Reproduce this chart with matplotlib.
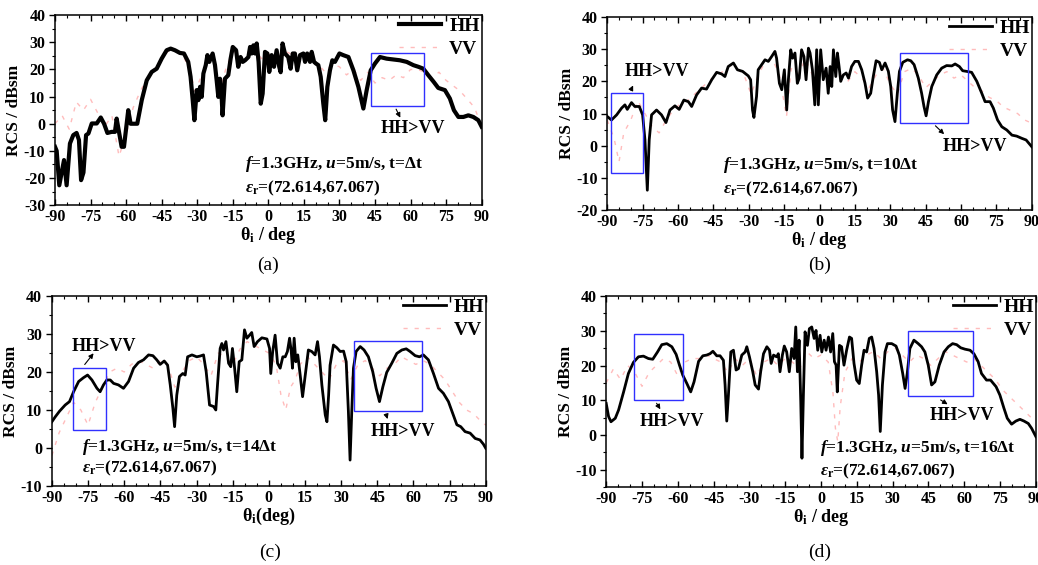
import numpy as np
import matplotlib
matplotlib.use('Agg')
import matplotlib.pyplot as plt
from matplotlib.patches import Rectangle
from matplotlib.ticker import MultipleLocator

plt.rcParams['font.family'] = 'Liberation Serif'
plt.rcParams['font.weight'] = 'bold'
plt.rcParams['mathtext.fontset'] = 'custom'
plt.rcParams['mathtext.rm'] = 'Liberation Serif:bold'
plt.rcParams['mathtext.it'] = 'Liberation Serif:bold:italic'
plt.rcParams['mathtext.bf'] = 'Liberation Serif:bold'
plt.rcParams['axes.unicode_minus'] = False

# (theta_i in deg, RCS in dBsm)
hh_a = [(-90, -8.5), (-89.3, -10), (-88.2, -22.7), (-87.2, -18), (-86.2, -13.4), (-85.1, -22.7),
        (-83.7, -7.3), (-82.3, -4.2), (-80.9, -3.4), (-79.9, -6), (-79, -20.8), (-78, -18),
        (-76.9, -4.2), (-75.9, -3.6), (-74.5, 0.1), (-72.4, 0.1), (-70.7, 2.3), (-69.3, 0),
        (-67.9, -3.4), (-66.1, -3), (-64.7, -3), (-64, 1.9), (-63, -3), (-61.9, -8.5), (-60.9, -8.5),
        (-59.1, 5), (-58.1, 0), (-57, 0), (-55.3, 0), (-53.4, 8.7), (-51.3, 16), (-49.2, 19.1),
        (-47.1, 20.3), (-45, 24), (-42.9, 27.1), (-41.2, 27.7), (-39.4, 27.1), (-37.3, 26.1),
        (-35.6, 25.9), (-33.8, 22.8), (-32.8, 17.3), (-31.9, 8.7), (-31.2, 1.3), (-30.2, 12.4),
        (-29.5, 8.7), (-28.8, 13.6), (-28.1, 9.9), (-27.4, 18.5), (-26.4, 21.6), (-25.7, 25.3),
        (-24.9, 22.8), (-23.5, 25.9), (-22.5, 21.6), (-21.8, 16), (-21.1, 9.9), (-20.4, 16.6),
        (-19.7, 9.9), (-19.3, 3.1), (-18.3, 16.6), (-16.9, 17.9), (-15.9, 24), (-15, 28.3),
        (-13.6, 27.1), (-12.7, 21), (-11.7, 24.6), (-10.8, 22.8), (-9.8, 23.4), (-8.4, 24.6),
        (-7.7, 28.3), (-7, 25.9), (-6.3, 28.9), (-5.6, 25.9), (-4.9, 29.6), (-4.1, 22.8),
        (-3.2, 7.4), (-2.4, 11.1), (-1.4, 26.5), (-0.4, 25.9), (0.4, 19.1), (1.4, 25.3),
        (2.4, 21), (3.5, 27.1), (4.6, 21), (5.2, 19), (6, 29.6), (7, 25.9), (8.4, 24.6),
        (9.4, 20.3), (10.3, 25.9), (11.2, 25.9), (12.2, 19.7), (13.4, 25.3), (14.8, 25.9),
        (15.5, 22.8), (16.4, 25.9), (17.6, 22.8), (18.3, 26.5), (19.3, 22.8), (20.1, 22.2),
        (21.1, 21.6), (22.1, 17.3), (23.2, 7.4), (24, 1.3), (24.9, 13.6), (26, 19.7), (27, 23.4),
        (28.1, 22.8), (30, 25.9), (31.6, 25.3), (33.8, 24.6), (35.9, 19.7), (38, 13.6),
        (40.1, 5.6), (41.5, 12.4), (43.2, 19.7), (45, 22.2), (47.1, 24.6), (49.9, 24),
        (52.7, 23.7), (55.5, 23.4), (58.4, 22.8), (61.2, 21.6), (63.3, 21), (65.4, 20.3),
        (67.5, 17.9), (69.8, 15.4), (71.7, 13.2), (74.5, 12.4), (76.6, 9.3), (78.3, 5),
        (80.2, 2.5), (82.3, 2.5), (84.4, 3.1), (86.5, 2.5), (88.6, 1.3), (90, -1.1)]

vv_a = [(-90, 0), (-87, 3), (-84, -2), (-81, 8), (-78, 5), (-75, 9), (-72, 4), (-69, -1),
        (-66, 3), (-63, -12), (-60, -4), (-57, 6), (-54, 12), (-51, 17), (-48, 20), (-45, 24),
        (-42, 27), (-39, 27), (-36, 25), (-33, 20), (-31, 12), (-29, 16), (-26, 23), (-23, 22),
        (-20, 14), (-18, 20), (-15, 27), (-12, 24), (-9, 26), (-6, 29), (-3, 24), (0, 26),
        (3, 22), (6, 27), (9, 26), (12, 23), (15, 25), (18, 24), (21, 22), (24, 19), (27, 22),
        (30, 21), (33, 18), (36, 20), (39, 16), (42, 19), (45, 15), (48, 17), (51, 16), (54, 18),
        (57, 17), (60, 20), (63, 20), (66, 19), (69, 17), (72, 19), (75, 16), (78, 14), (81, 12),
        (84, 9), (87, 6), (90, -1)]

hh_b = [(-90, 9.1), (-88.2, 8), (-86, 9.6), (-83.9, 11.7), (-82.5, 12.7), (-81.5, 11.3),
        (-79.7, 13.4), (-78.3, 12.2), (-76.4, 12.2), (-75, 9.6), (-74, 1.8), (-73, -13.8),
        (-72.2, 1.8), (-71.2, 9.6), (-69.1, 11.1), (-67, 9.6), (-65.1, 7.2), (-63.4, 11.1),
        (-61.3, 12.4), (-59.5, 11.3), (-57.5, 14.2), (-55.6, 13.7), (-54.2, 12.2), (-52.1, 15.8),
        (-50, 17.9), (-47.9, 17.6), (-45.7, 20.5), (-43.6, 22.8), (-41.5, 22.3), (-40.1, 21.5),
        (-38.7, 24.6), (-36.5, 25.7), (-34.8, 23.6), (-32.6, 23.1), (-30.2, 21.7), (-29.2, 20.5),
        (-28.4, 11.1), (-27.8, 8.8), (-26.7, 15.3), (-26, 23.6), (-24.5, 25.2), (-23.1, 26.7),
        (-21.7, 26.2), (-20.3, 27.7), (-18.9, 29.3), (-18.2, 27.2), (-17, 19.4), (-16, 17.4),
        (-14.9, 23.6), (-13.9, 11.1), (-13.2, 20.5), (-12.2, 29.8), (-11.4, 27.2), (-10.4, 28.8),
        (-9.4, 19.4), (-8.6, 21), (-7.6, 29.8), (-6.6, 27.7), (-5.7, 20.5), (-4.7, 30.3),
        (-4, 28.8), (-3, 23.6), (-2, 12.7), (-1.2, 29.8), (-0.5, 12.7), (0.5, 29.8), (1.6, 20.5),
        (2.8, 24.1), (3.7, 16.3), (4.5, 24.6), (5.2, 18.4), (5.9, 29.8), (6.9, 21.5), (7.6, 28.8),
        (8.3, 24.6), (9, 20), (10.1, 22), (11.3, 22.6), (12.3, 21), (13.6, 24.6), (15, 26.2),
        (16.5, 26.2), (17.9, 23.6), (19.3, 19.4), (20.4, 14.8), (21.7, 16.3), (22.8, 21.5),
        (24, 26.4), (25.4, 25.9), (26.4, 23.6), (27.8, 25.7), (29.2, 23.1), (30.2, 18.4),
        (31, 11.1), (32, 7.5), (33, 16.3), (33.9, 23.1), (35.3, 25.9), (37.3, 26.7), (38.7, 26.4),
        (40.1, 25.2), (41.9, 21), (43.3, 16.3), (44.3, 12.2), (45.2, 9.3), (46.2, 13.7),
        (47.6, 18.4), (49.7, 22), (51.8, 24.1), (53.9, 24.9), (56.1, 24.8), (57.5, 25.4),
        (59.3, 24.6), (60.7, 23.3), (62.4, 23.1), (64.5, 22.8), (66.7, 20), (68.8, 16.3),
        (70.2, 13.7), (72.3, 13.7), (73.7, 11.7), (75.5, 8), (77.3, 5.9), (79.4, 4.9), (81.6, 3.3),
        (83.6, 3), (85.8, 2.3), (87.6, 1.8), (90, -0.3)]

vv_b = [(-90, 8), (-87, 2), (-85, -5), (-83, 4), (-80, 8), (-77, 14), (-74, 10), (-71, 6),
        (-68, 4), (-65, 8), (-62, 11), (-59, 13), (-56, 14), (-53, 16), (-50, 18), (-47, 20),
        (-44, 22), (-41, 23), (-38, 25), (-35, 24), (-32, 22), (-29, 16), (-26, 22), (-23, 26),
        (-20, 27), (-17, 22), (-14, 9), (-12, 24), (-9, 22), (-6, 27), (-3, 22), (0, 25), (3, 20),
        (6, 26), (9, 22), (12, 20), (15, 23), (18, 21), (21, 18), (24, 22), (27, 24), (30, 19),
        (33, 16), (36, 23), (39, 24), (42, 22), (45, 18), (48, 20), (51, 22), (54, 23), (57, 21),
        (60, 22), (63, 20), (66, 18), (69, 17), (72, 15), (75, 14), (78, 12), (81, 11), (84, 10),
        (87, 8), (90, 7)]

hh_c = [(-90, 6.9), (-88.6, 8.2), (-86.8, 9.7), (-84.5, 11.3), (-82.7, 12.2), (-81, 14.8),
        (-78.9, 17.5), (-76.9, 18.5), (-75.2, 19.2), (-73.4, 17.9), (-71.3, 15.7), (-70, 14.8),
        (-68.6, 16.6), (-67.2, 17.9), (-65.8, 17.9), (-64.4, 17), (-62.4, 16.6), (-60.3, 15.7),
        (-58.2, 17.5), (-56.1, 21), (-54.1, 22.5), (-52, 23.2), (-49.9, 24.5), (-48.1, 24.3),
        (-46.5, 23.2), (-45.1, 22), (-43.4, 22.9), (-42, 21.8), (-40.9, 16.6), (-39.8, 10.4),
        (-39.1, 5.6), (-38.2, 13.9), (-37.1, 18.8), (-35.7, 19.6), (-34.7, 19.2), (-33.7, 24),
        (-31.9, 24.5), (-29.9, 24), (-28.5, 24.2), (-27.1, 24.5), (-26, 20.1), (-24.6, 11.3),
        (-22.9, 10.9), (-22, 10), (-21.3, 16.6), (-20.2, 26.2), (-19.5, 27.5), (-18.8, 25.8),
        (-17.8, 28), (-16.7, 22.3), (-15.8, 21.4), (-15.1, 26.2), (-14.2, 21), (-13.3, 14.8),
        (-12.3, 22.7), (-11.2, 23.2), (-10.1, 31.1), (-9.1, 28.9), (-8, 29.7), (-7.1, 30.4),
        (-6.1, 26.7), (-4.7, 28), (-2.9, 29), (-0.8, 28.7), (0.3, 26.2), (0.8, 19.6), (1.6, 25.4),
        (2.6, 29.7), (3.6, 22.3), (4.7, 21), (5.8, 24), (6.8, 24), (7.7, 25.4), (8.6, 28.9),
        (9.3, 25.4), (9.8, 21), (10.5, 28.9), (11.2, 22.7), (12, 24.5), (13, 19.2), (14, 13.5),
        (15.1, 19.2), (16.4, 25.8), (17.8, 25.4), (19.2, 24.5), (20.2, 28), (21, 24), (22, 16.6),
        (23.4, 8.7), (24.1, 6.9), (24.8, 13.9), (25.4, 21.8), (26.8, 27.1), (28.2, 26.4),
        (29.6, 25.4), (31, 25.5), (32.1, 22.7), (33, 9.6), (33.7, -3.2), (34.4, 9.6), (35.1, 21),
        (36.2, 25.4), (37.9, 26.7), (39.5, 25.8), (41.3, 24), (43.1, 20.1), (44.5, 15.7),
        (45.9, 12.2), (47.3, 16.1), (48.9, 19.9), (51, 22.3), (53.1, 24.9), (55.2, 25.8),
        (57, 26.1), (58.6, 25.4), (60.7, 24.3), (62.5, 24), (64.1, 24.5), (66.2, 23.2),
        (68.3, 19.6), (70.4, 15.7), (72.4, 14.4), (74.5, 12.2), (76.3, 9.1), (78, 6.1), (79.6, 5.6),
        (81.4, 4.3), (83.5, 3.9), (85.6, 2.5), (87.6, 2.1), (89, 1), (90, -0.1)]

vv_c = [(-90, -2), (-87, 4), (-84, 8), (-81, 12), (-78, 10), (-75, 6), (-72, 12), (-69, 16),
        (-66, 20), (-63, 21), (-60, 20), (-57, 22), (-54, 23), (-51, 22), (-48, 21), (-45, 23),
        (-42, 22), (-39, 16), (-36, 20), (-33, 23), (-30, 24), (-27, 22), (-24, 19), (-21, 25),
        (-18, 24), (-15, 22), (-12, 26), (-9, 28), (-6, 27), (-3, 26), (0, 25), (3, 22), (5, 14),
        (7, 10), (9, 16), (11, 18), (13, 22), (16, 24), (19, 22), (22, 20), (25, 18), (28, 22),
        (31, 23), (34, 18), (37, 22), (40, 23), (43, 21), (46, 19), (49, 21), (52, 22), (55, 24),
        (58, 23), (61, 22), (64, 23), (67, 22), (70, 20), (73, 18), (76, 15), (79, 12), (82, 10),
        (85, 9), (88, 7), (90, 6)]

hh_d = [(-90, 9.1), (-89, 5.3), (-88, 3.8), (-86.2, 4.8), (-84.8, 7.2), (-82.7, 12.4),
        (-80.7, 17.7), (-78.6, 20.9), (-76.5, 22.5), (-74.4, 22.7), (-72.3, 22), (-70.5, 21.8),
        (-68.5, 23.9), (-66.7, 26), (-64.6, 26.3), (-62.5, 25.4), (-60.7, 23.2), (-59.3, 20.1),
        (-57.9, 17.2), (-56.2, 14.8), (-54.6, 12.4), (-53.2, 15.3), (-51.3, 21.2), (-49.5, 22.8),
        (-47.9, 23), (-46.5, 23.4), (-45.3, 24.1), (-43.7, 22.8), (-42.3, 22.8), (-40.9, 21.5),
        (-40.2, 14.4), (-39.5, 4), (-38.8, 11.5), (-37.8, 23.9), (-36.7, 24.4), (-35.6, 18.7),
        (-34.6, 19.1), (-33.2, 23), (-31.8, 23.9), (-31.1, 25.4), (-30, 22.5), (-28.6, 18.2),
        (-27.6, 14.4), (-26.2, 13.2), (-25.3, 18.2), (-24.1, 23.4), (-22.7, 25.4), (-21.6, 24.4),
        (-20.9, 20.6), (-19.9, 23), (-18.6, 22.5), (-17.9, 23.4), (-17.2, 18.2), (-16.2, 23),
        (-15.4, 25.6), (-14.4, 23.9), (-13.3, 18.2), (-12.3, 24.9), (-11.3, 22), (-10.6, 31.1),
        (-9.9, 18.2), (-9.2, 27.3), (-8.5, 9.6), (-8, -6.7), (-7.4, 11.5), (-6.7, 29.7),
        (-5.7, 25.8), (-4.9, 30.6), (-3.9, 31.1), (-2.9, 27.8), (-2.1, 30.1), (-1.4, 24.4),
        (-0.4, 28.7), (0.3, 23.9), (1.3, 27.3), (2.1, 24.4), (3.1, 28.2), (4, 23.9), (4.9, 29.2),
        (5.6, 21.1), (6.3, 20.1), (6.8, 12.4), (7.7, 25.8), (8.6, 25.4), (9.6, 20.1), (10.7, 24.4),
        (11.9, 28.2), (12.8, 27.8), (13.8, 20.6), (14.9, 15.8), (16, 14.8), (17, 20.1), (18, 24.4),
        (19.1, 23.9), (20.2, 27.8), (21.2, 28.2), (22.2, 24.9), (23.3, 18.2), (24.1, 11.5),
        (24.8, 1), (25.7, 14.4), (26.8, 23.9), (27.8, 26.3), (29.6, 26.3), (31.4, 25.6),
        (32.8, 23), (34.2, 17.7), (35.2, 13.4), (36.1, 17.7), (37.2, 24.9), (38.9, 27.3),
        (40.7, 26.3), (42.1, 25.4), (43.5, 23.9), (44.9, 20.1), (46.3, 14.4), (47.7, 15.3),
        (49.5, 20.1), (51.5, 23.9), (53.3, 25.4), (55.1, 26.3), (56.8, 26), (58.5, 25.1),
        (60.3, 24.7), (62.4, 24.4), (64, 23.4), (65.8, 21.1), (67.2, 17.7), (69.3, 15.8),
        (71, 15.8), (73.3, 13.9), (74.9, 11.5), (76.6, 7.7), (78, 4.8), (79.8, 3.1), (81.6, 4),
        (83.3, 4.5), (85, 4), (86.8, 3.3), (88.2, 1.9), (90, -0.5)]

vv_d = [(-90, 15), (-87, 19), (-84, 16), (-81, 20), (-78, 18), (-75, 14), (-72, 18), (-69, 20),
        (-66, 22), (-63, 21), (-60, 17), (-57, 21), (-54, 22), (-51, 22), (-48, 23), (-45, 22),
        (-42, 21), (-39, 18), (-36, 22), (-33, 20), (-30, 22), (-27, 17), (-24, 21), (-21, 22),
        (-18, 20), (-15, 22), (-12, 21), (-9, 19), (-6, 24), (-3, 22), (0, 23), (3, 21), (5, 12),
        (6, 2), (7, -2), (8, 8), (10, 18), (13, 22), (16, 21), (19, 23), (22, 24), (25, 22),
        (28, 24), (31, 25), (34, 23), (37, 21), (40, 23), (43, 22), (46, 20), (49, 22), (52, 24),
        (55, 23), (58, 22), (61, 21), (64, 22), (67, 20), (70, 18), (73, 16), (76, 13), (79, 11),
        (82, 9), (85, 7), (88, 5), (90, 4)]

ylims = [(-30, 40), (-20, 40), (-10, 40), (-15, 40)]
time_steps = ['Δt', '10Δt', '14Δt', '16Δt']
captions = ['(a)', '(b)', '(c)', '(d)']
xlabels = [r'θ$_\mathrm{i}$ / deg', r'θ$_\mathrm{i}$ / deg', r'θ$_\mathrm{i}$(deg)', r'θ$_\mathrm{i}$ / deg']


def draw_panel(ax, hh, vv, ylim, lw, xlabel, tstep, note_pos, boxes):
    t, r = np.array(hh).T
    tv, rv = np.array(vv).T
    ax.plot(tv, rv, color='#ffbcbc', lw=1.0, ls=(0, (3, 5)), label='VV', zorder=2)
    ax.plot(t, r, color='black', lw=lw, label='HH', zorder=3, solid_joinstyle='round')

    ax.set_xlim(-90, 90)
    ax.set_ylim(*ylim)
    ax.xaxis.set_major_locator(MultipleLocator(15))
    ax.xaxis.set_minor_locator(MultipleLocator(5))
    ax.yaxis.set_major_locator(MultipleLocator(10))
    ax.yaxis.set_minor_locator(MultipleLocator(5))
    ax.tick_params(axis='x', which='both', direction='in', top=True)
    ax.tick_params(axis='y', which='both', direction='out')
    ax.tick_params(which='major', length=4, width=1, labelsize=11.5, pad=3)
    ax.tick_params(which='minor', length=2.5, width=0.8)
    for s in ax.spines.values():
        s.set_linewidth(1.1)
    ax.set_xlabel(xlabel, fontsize=13, fontweight='bold', labelpad=0)
    ax.set_ylabel('RCS / dBsm', fontsize=12.5, fontweight='bold', labelpad=1)

    handles, labels = ax.get_legend_handles_labels()
    ax.legend(handles[::-1], labels[::-1], loc='upper right', bbox_to_anchor=(1.0, 1.0),
              frameon=False, fontsize=14, handlelength=2.2, handletextpad=0.4,
              labelspacing=0.3, borderpad=0.1, borderaxespad=0.0)

    nx, ny1, ny2 = note_pos
    ax.text(nx, ny1, '$f$=1.3GHz, $u$=5m/s, t=' + tstep, transform=ax.transAxes,
            fontsize=12.5, fontweight='bold', va='center')
    ax.text(nx, ny2, r'$\varepsilon_\mathrm{r}$=(72.614,67.067)', transform=ax.transAxes,
            fontsize=12.5, fontweight='bold', va='center')

    for (x0, x1, y0, y1), (a0, a1), (tx, ty) in boxes:
        ax.add_patch(Rectangle((x0, y0), x1 - x0, y1 - y0, fill=False, ec='#3030ff', lw=1.0, zorder=4))
        ax.annotate('', xy=a1, xytext=a0,
                    arrowprops=dict(arrowstyle='-|>', color='black', lw=0.8, mutation_scale=7))
        ax.text(tx, ty, 'HH>VV', ha='center', va='center', fontsize=13, fontweight='bold', zorder=5)


fig = plt.figure(figsize=(10.38, 5.65), dpi=100)
ax_pos = [[0.053, 0.637, 0.411, 0.336], [0.585, 0.628, 0.409, 0.342],
          [0.050, 0.140, 0.418, 0.336], [0.584, 0.138, 0.414, 0.338]]
axes = [fig.add_axes(p) for p in ax_pos]

note_pos = [(0.445, 0.216, 0.088), (0.273, 0.234, 0.109), (0.069, 0.207, 0.093), (0.498, 0.203, 0.082)]
boxes = [
    [((43.2, 65.6, 6.5, 26.1), ((53.4, 6.3), (56.2, 1.3)), (60.9, -1.8))],
    [((-88.2, -74.7, -8.6, 16.3), ((-80.5, 16.5), (-78.5, 19.5)), (-69.1, 23.1)),
     ((34.1, 63.1, 7.0, 28.8), ((48.3, 6.8), (53.7, 3.0)), (66.0, -0.3))],
    [((-81.4, -67.6, 4.7, 21.1), ((-77.1, 21.4), (-72.0, 25.5)), (-68.6, 26.7)),
     ((35.5, 63.5, 9.7, 28.2), ((48.3, 9.6), (49.6, 6.9)), (55.6, 4.3))],
    [((-78.3, -58.0, 10.2, 29.2), ((-69.5, 9.8), (-66.7, 6.7)), (-62.5, 4.0)),
     ((36.6, 63.7, 11.2, 30.0), ((49.1, 10.5), (54.0, 8.4)), (58.9, 5.5))],
]
hh_all = [hh_a, hh_b, hh_c, hh_d]
vv_all = [vv_a, vv_b, vv_c, vv_d]
widths = [3.0, 2.0, 2.0, 2.0]

for i, ax in enumerate(axes):
    draw_panel(ax, hh_all[i], vv_all[i], ylims[i], widths[i], xlabels[i], time_steps[i],
               note_pos[i], boxes[i])

cap_pos = [(0.258, 0.531), (0.790, 0.531), (0.260, 0.023), (0.790, 0.023)]
for (cx, cy), c in zip(cap_pos, captions):
    fig.text(cx, cy, c, ha='center', va='center', fontsize=14, fontweight='normal')

fig.savefig('out.png', dpi=100)
